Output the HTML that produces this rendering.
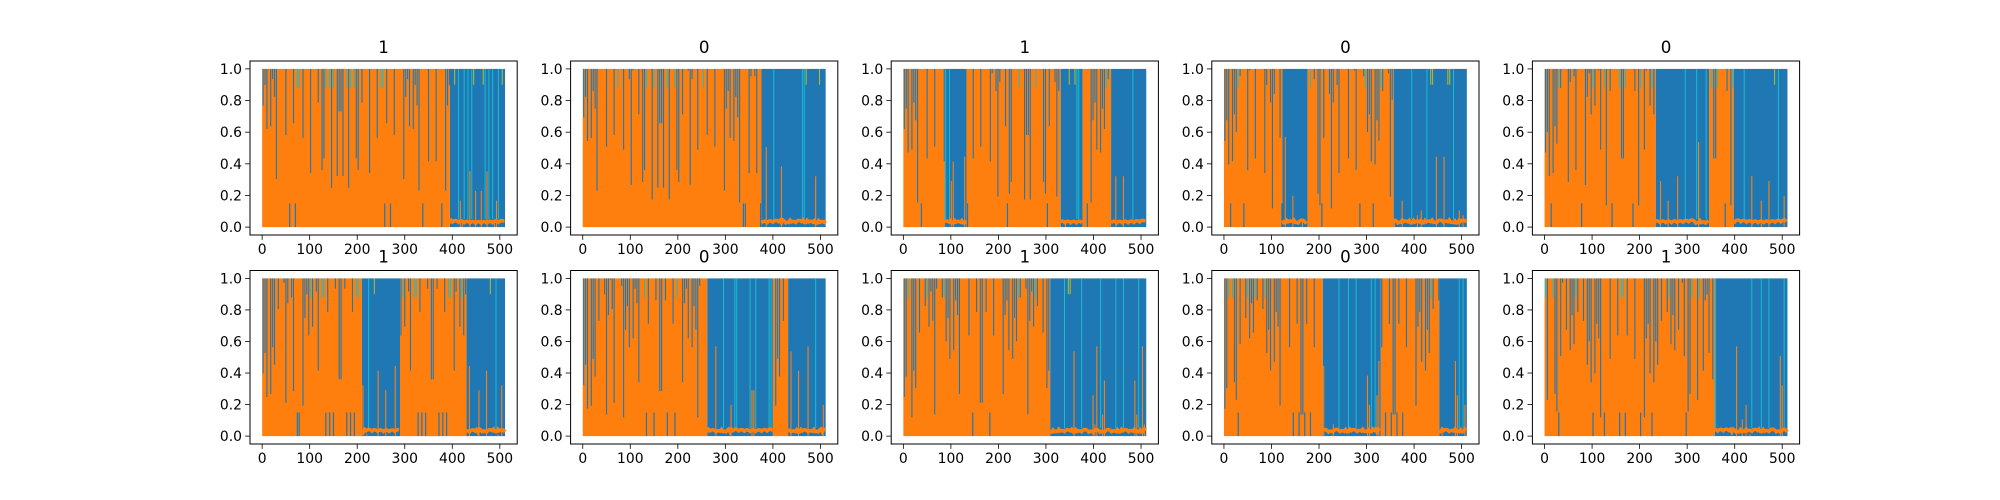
<!DOCTYPE html>
<html><head><meta charset="utf-8"><style>
body{margin:0;background:#fff;}
svg{display:block;font-family:"DejaVu Sans","Liberation Sans",sans-serif;}
</style></head><body>
<svg id="fig" width="2000" height="500" xmlns="http://www.w3.org/2000/svg"></svg>
<script>
// per-panel titles
const titles = ["1","0","1","0","0","1","0","1","0","1"];
// per-panel regions: [startIndex, endIndex, dominant] (o = orange, b = blue)
const regions0 = [[0,395,"o"],[395,511,"b"]];
const regions1 = [[0,376,"o"],[376,511,"b"]];
const regions2 = [[0,87,"o"],[87,133,"b"],[133,331,"o"],[331,377,"b"],[377,437,"o"],[437,511,"b"]];
const regions3 = [[0,123,"o"],[123,176,"b"],[176,357,"o"],[357,511,"b"]];
const regions4 = [[0,234,"o"],[234,346,"b"],[346,398,"o"],[398,511,"b"]];
const regions5 = [[0,210,"o"],[210,290,"b"],[290,430,"o"],[430,511,"b"]];
const regions6 = [[0,262,"o"],[262,400,"b"],[400,432,"o"],[432,511,"b"]];
const regions7 = [[0,309,"o"],[309,511,"b"]];
const regions8 = [[0,208,"o"],[208,330,"b"],[330,453,"o"],[453,511,"b"]];
const regions9 = [[0,358,"o"],[358,511,"b"]];
const allRegions = [regions0,regions1,regions2,regions3,regions4,regions5,regions6,regions7,regions8,regions9];
const xTicks = [0,100,200,300,400,500];
const yTicks = [0,0.2,0.4,0.6,0.8,1.0];
const yTickLabels = ["0.0","0.2","0.4","0.6","0.8","1.0"];

const NS="http://www.w3.org/2000/svg";
const svg=document.getElementById('fig');
function mk(tag,attrs,parent){const e=document.createElementNS(NS,tag);for(const k in attrs)e.setAttribute(k,attrs[k]);(parent||svg).appendChild(e);return e;}
function hsh(i,p){return (((i*i*31+i*17+p*101)%97)+97)%97/97;}
const BLUE="#1f77b4",ORANGE="#ff7f0e",CYAN="#17becf",OLIVE="#bcbd22";
const W=267.2, colStep=320.6, rowTops=[61,270.5], H=[174,173.5];

for(let p=0;p<10;p++){
  const col=p%5,row=Math.floor(p/5);
  const L=250+col*colStep, T=rowTops[row], Hh=H[row];
  const xs=d=>L+(d+25.55)*(W/562.1);
  const ys=v=>T+Hh-(v+0.05)*(Hh/1.1);
  const g=mk('g',{});
  
  
  const marks=mk('g',{},g);
  
  
  const regs=allRegions[p];
  regs.forEach((r,ri)=>{
    const [a,b,t]=r;
    const rect=mk('rect',{x:xs(a),y:ys(1),width:xs(b)-xs(a),height:ys(0)-ys(1),fill:t==="o"?ORANGE:BLUE},marks);
    
    
    for(let i=a+2;i<b;i+=4){
      const h=hsh(i,p);
      if(t==="o"){
        if(h>0.5){const d=1-(h-0.5)*1.8;
          mk('line',{x1:xs(i),x2:xs(i),y1:ys(1),y2:ys(Math.max(d,0.02)),stroke:BLUE,'stroke-width':1.1},marks);}
        if(h<0.08) mk('line',{x1:xs(i),x2:xs(i),y1:ys(1),y2:ys(0.88),stroke:CYAN,'stroke-width':1},marks);
        if(h>0.2&&h<0.26) mk('line',{x1:xs(i),x2:xs(i),y1:ys(0),y2:ys(0.15),stroke:BLUE,'stroke-width':1.2},marks);
      } else {
        if(h>0.8) mk('line',{x1:xs(i),x2:xs(i),y1:ys(0),y2:ys((h-0.8)*3),stroke:ORANGE,'stroke-width':1.1},marks);
        if(h<0.15) mk('line',{x1:xs(i),x2:xs(i),y1:ys(0.05),y2:ys(1),stroke:CYAN,'stroke-width':1},marks);
        if(h>0.3&&h<0.35) mk('line',{x1:xs(i),x2:xs(i),y1:ys(1),y2:ys(0.9),stroke:OLIVE,'stroke-width':1},marks);
      }
    }
    if(t==="b"){
      let pts=[];
      for(let i=a;i<=b;i+=3){pts.push(xs(i)+','+ys(0.025+hsh(i,p+3)*0.02));}
      mk('polyline',{points:pts.join(' '),fill:'none',stroke:ORANGE,'stroke-width':3.5},marks);
    }
  });
  const fr=mk('rect',{x:L,y:T,width:W,height:Hh,fill:'none',stroke:'#000','stroke-width':1},g);
  
  
  xTicks.forEach(v=>{
    mk('line',{x1:xs(v),x2:xs(v),y1:T+Hh,y2:T+Hh+4.9,stroke:'#000','stroke-width':0.8},g);
    const tx=mk('text',{x:xs(v),y:T+Hh+19,'font-size':13.9,'text-anchor':'middle',fill:'#000'},g);
    tx.textContent=v;
    
    
  });
  yTicks.forEach((v,k)=>{
    mk('line',{x1:L,x2:L-4.9,y1:ys(v),y2:ys(v),stroke:'#000','stroke-width':0.8},g);
    const tx=mk('text',{x:L-8,y:ys(v)+5,'font-size':13.9,'text-anchor':'end',fill:'#000'},g);
    tx.textContent=yTickLabels[k];
    
    
  });
  const tt=mk('text',{x:L+W/2,y:T-8,'font-size':16.7,'text-anchor':'middle',fill:'#000'},g);
  tt.textContent=titles[p];
  
  
}
</script>
</body></html>
